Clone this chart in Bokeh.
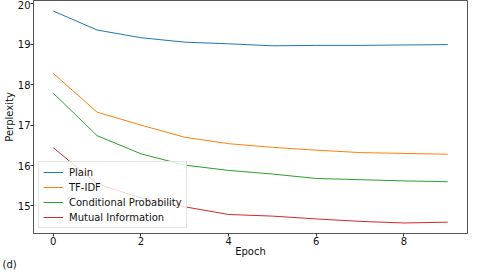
from bokeh.plotting import figure
from bokeh.models import Range1d, FixedTicker, Legend, LegendItem, Label
from bokeh.embed import file_html
from bokeh.resources import INLINE

epochs = [0, 1, 2, 3, 4, 5, 6, 7, 8, 9]
plain = [19.82, 19.35, 19.16, 19.05, 19.01, 18.96, 18.97, 18.97, 18.98, 18.99]
tfidf = [18.28, 17.32, 17.00, 16.70, 16.54, 16.45, 16.38, 16.32, 16.30, 16.28]
cond_prob = [17.79, 16.74, 16.29, 16.01, 15.88, 15.79, 15.68, 15.65, 15.62, 15.60]
mutual_info = [16.44, 15.55, 15.20, 14.98, 14.79, 14.75, 14.68, 14.62, 14.58, 14.60]

series_names = ["Plain", "TF-IDF", "Conditional Probability", "Mutual Information"]
series_values = [plain, tfidf, cond_prob, mutual_info]
colors = ["#1f77b4", "#ff7f0e", "#2ca02c", "#d62728"]

x_ticks = [0, 2, 4, 6, 8]
y_ticks = [15, 16, 17, 18, 19, 20]
panel_tag = "(d)"

FONT = "DejaVu Sans"

p = figure(width=470, height=270, output_backend="svg", toolbar_location=None,
           x_range=Range1d(-0.45, 9.45), y_range=Range1d(14.32, 20.08),
           min_border_left=0, min_border_right=3, min_border_top=0, min_border_bottom=0)

p.background_fill_color = "white"
p.border_fill_color = "white"
p.outline_line_color = "#555555"
p.outline_line_width = 1
p.xgrid.visible = False
p.ygrid.visible = False

for ax in (p.xaxis[0], p.yaxis[0]):
    ax.axis_line_color = "#555555"
    ax.major_tick_line_color = "#333333"
    ax.minor_tick_line_color = None
    ax.major_tick_in = 0
    ax.major_tick_out = 3
    ax.major_label_text_font = FONT
    ax.major_label_text_font_size = "10px"
    ax.major_label_text_color = "#111111"
    ax.major_label_standoff = 0
    ax.axis_label_text_font = FONT
    ax.axis_label_text_font_size = "10px"
    ax.axis_label_text_font_style = "normal"
    ax.axis_label_text_color = "#111111"
    ax.axis_label_standoff = 0

p.xaxis[0].axis_label_standoff = -2
p.xaxis[0].ticker = FixedTicker(ticks=x_ticks)
p.yaxis[0].ticker = FixedTicker(ticks=y_ticks)
p.xaxis[0].axis_label = "Epoch"
p.yaxis[0].axis_label = "Perplexity"

items = []
for name, vals, c in zip(series_names, series_values, colors):
    r = p.line(epochs, vals, line_color=c, line_width=1)
    items.append(LegendItem(label=name, renderers=[r]))

legend = Legend(items=items, location="bottom_left", margin=5, padding=4,
                spacing=3, glyph_width=20, glyph_height=12, label_height=12,
                label_standoff=6, label_text_font=FONT, label_text_font_size="10px",
                label_text_color="#111111",
                background_fill_color="white", background_fill_alpha=0.8,
                border_line_color="#cccccc", border_line_width=1)
p.add_layout(legend)

p.add_layout(Label(x=-31, y=1, x_units="screen", y_units="screen", text=panel_tag,
                   text_font=FONT, text_font_size="10px", text_color="#111111",
                   text_baseline="bottom"), "below")

open("out.html", "w").write(file_html(p, INLINE))
